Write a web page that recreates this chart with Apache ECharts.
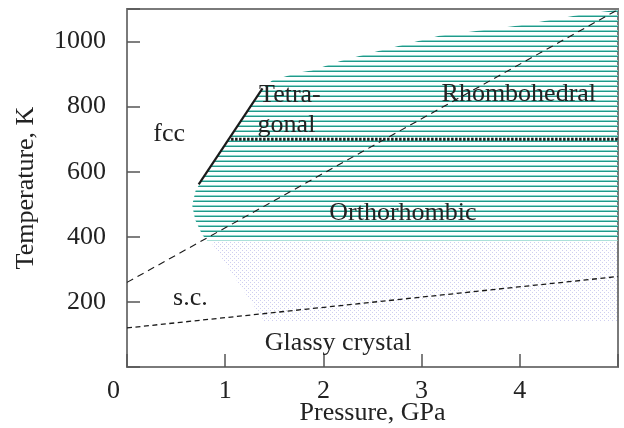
<!DOCTYPE html>
<html><head><meta charset="utf-8">
<script src="https://cdn.jsdelivr.net/npm/echarts@6/dist/echarts.min.js"></script>
<style>html,body{margin:0;padding:0;background:#fff}#chart{width:624px;height:428px}</style>
</head><body><div id="chart"></div>
<script>
// Axis ranges and tick labels
const pressureRange = [0, 5];
const temperatureRange = [0, 1100];
const pressureTickLabels = ['0', '1', '2', '3', '4'];
const temperatureTickLabels = ['200', '400', '600', '800', '1000'];

// Ordered phases (Tetragonal / Rhombohedral / Orthorhombic), outline in [GPa, K]
const orderedRegion = [
  [1.38, 856], [1.48, 881], [1.75, 905], [1.88, 911], [2.19, 942], [2.57, 972],
  [3.18, 1018], [3.99, 1049], [4.63, 1083], [5.0, 1098], [5.0, 388], [0.817, 388],
  [0.766, 406], [0.695, 452], [0.664, 497], [0.70, 544], [0.727, 556]
];
// Dotted region below the orthorhombic phase
const dottedRegion = [[0.85, 386], [5.0, 386], [5.0, 139], [1.40, 139]];

// Phase boundaries
const fccScBoundary = [[0, 260], [5.0, 1098]];
const glassyBoundary = [[0, 120], [5.0, 278]];
const fccTetraBoundary = [[0.73, 561], [1.38, 856]];
const tetraRhomboBoundary = [[1.06, 700], [5.0, 700]];

// Phase names: [GPa, K, text, align]
const phaseLabels = [
  [0.43, 716, 'fcc', 'center'],
  [1.345, 836, 'Tetra-', 'left'],
  [1.33, 744, 'gonal', 'left'],
  [3.99, 838, 'Rhombohedral', 'center'],
  [2.81, 474, 'Orthorhombic', 'center'],
  [0.645, 211, 's.c.', 'center'],
  [2.15, 73, 'Glassy crystal', 'center']
];

const FONT = '"Liberation Serif", "Times New Roman", serif';

function makePattern(w, h, draw) {
  const c = document.createElement('canvas');
  c.width = w; c.height = h;
  draw(c.getContext('2d'));
  return { image: c, repeat: 'repeat' };
}
const stripes = makePattern(1, 5, g => {
  g.fillStyle = '#8fd6cc'; g.fillRect(0, 0, 1, 1);
  g.fillStyle = '#22998a'; g.fillRect(0, 1, 1, 1);
});
const dots = makePattern(4, 4, g => {
  g.fillStyle = 'rgba(180,180,232,0.65)';
  g.fillRect(0, 0, 1, 1);
  g.fillRect(2, 2, 1, 1);
});

function regionSeries(points, fill) {
  return {
    type: 'custom', silent: true, z: 1,
    data: [0],
    renderItem: (params, api) => ({
      type: 'polygon',
      shape: { points: points.map(p => api.coord(p)) },
      style: { fill: fill, stroke: null }
    })
  };
}
function lineSeries(data, width, type) {
  return {
    type: 'line', data: data, symbol: 'none', silent: true, z: 3,
    lineStyle: { color: '#1a1a1a', width: width, type: type }
  };
}

const chart = echarts.init(document.getElementById('chart'));
chart.setOption({
  animation: false,
  grid: {
    left: 127, right: 6, top: 9, bottom: 61, containLabel: false, outerBoundsMode: 'none',
    show: true, borderColor: '#7a7a7a', borderWidth: 2
  },
  xAxis: {
    type: 'value', min: pressureRange[0], max: pressureRange[1], interval: 1,
    name: 'Pressure, GPa', nameLocation: 'middle', nameGap: 33, nameMoveOverlap: false,
    nameTextStyle: { fontFamily: FONT, fontSize: 26, color: '#222' },
    splitLine: { show: false },
    axisLine: { lineStyle: { color: '#7a7a7a', width: 2 } },
    axisTick: { inside: true, length: 13, lineStyle: { color: '#555', width: 1.5 } },
    axisLabel: {
      margin: 11, fontFamily: FONT, fontSize: 26, color: '#222',
      formatter: v => {
        const s = pressureTickLabels.find(t => +t === v);
        if (s === undefined) return '';
        return v === 0 ? '{o|' + s + '}' : s;
      },
      rich: { o: { fontFamily: FONT, fontSize: 26, color: '#222', padding: [0, 27, 0, 0] } }
    }
  },
  yAxis: {
    type: 'value', min: temperatureRange[0], max: temperatureRange[1], interval: 200,
    name: 'Temperature, K', nameLocation: 'middle', nameGap: 88, nameRotate: 90, nameMoveOverlap: false,
    nameTextStyle: { fontFamily: FONT, fontSize: 26, color: '#222' },
    splitLine: { show: false },
    axisLine: { lineStyle: { color: '#7a7a7a', width: 2 } },
    axisTick: { inside: true, length: 13, lineStyle: { color: '#555', width: 1.5 } },
    axisLabel: {
      margin: 21, fontFamily: FONT, fontSize: 26, color: '#222',
      formatter: v => temperatureTickLabels.find(t => +t === v) || ''
    }
  },
  series: [
    regionSeries(dottedRegion, dots),
    regionSeries(orderedRegion, stripes),
    lineSeries(fccScBoundary, 1.1, [7, 5]),
    lineSeries(glassyBoundary, 1.3, [5, 3.5]),
    lineSeries(fccTetraBoundary, 2.2, 'solid'),
    lineSeries(tetraRhomboBoundary, 3, [2.5, 1.5]),
    {
      type: 'custom', silent: true, z: 5,
      data: phaseLabels,
      renderItem: (params, api) => {
        const d = phaseLabels[params.dataIndex];
        const p = api.coord([d[0], d[1]]);
        return {
          type: 'text', x: p[0], y: p[1],
          style: {
            text: d[2], fontFamily: FONT, fontSize: 26, fill: '#222',
            align: d[3], verticalAlign: 'middle'
          }
        };
      }
    }
  ]
});
</script></body></html>
